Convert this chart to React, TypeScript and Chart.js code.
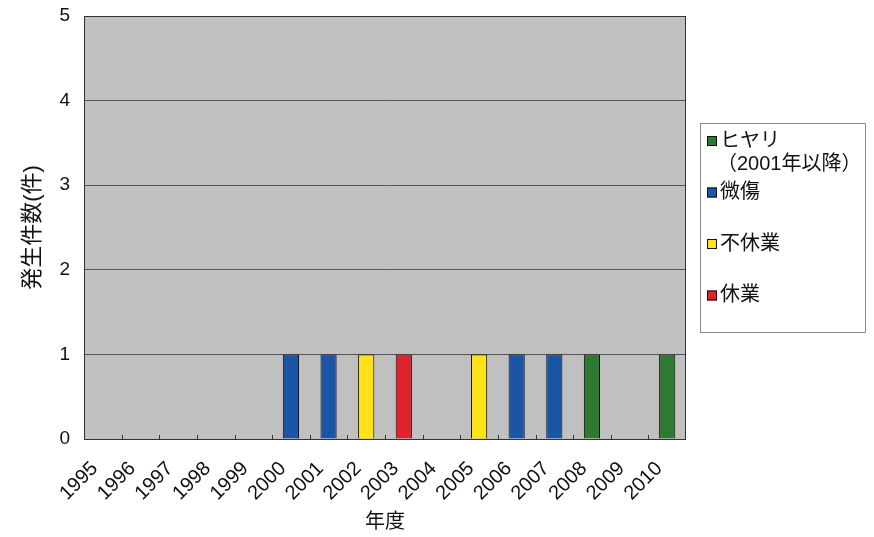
import { useEffect, useRef } from "react";
import { Chart, registerables } from "chart.js";

Chart.register(...registerables);

const years = ["1995", "1996", "1997", "1998", "1999", "2000", "2001", "2002", "2003", "2004", "2005", "2006", "2007", "2008", "2009", "2010"];
const yTicks = [0, 1, 2, 3, 4, 5];

const hiyari = [null, null, null, null, null, null, null, null, null, null, null, null, null, 1, null, 1];
const bisho = [null, null, null, null, null, 1, 1, null, null, null, null, 1, 1, null, null, null];
const fukyugyo = [null, null, null, null, null, null, null, 1, null, null, 1, null, null, null, null, null];
const kyugyo = [null, null, null, null, null, null, null, null, 1, null, null, null, null, null, null, null];

const legendLabels = [["ヒヤリ", "（2001年以降）"], ["微傷"], ["不休業"], ["休業"]];
const seriesColors = ["#2e7a32", "#1b55a6", "#ffe21a", "#e0222c"];

const yTitle = "発生件数(件)";
const xTitle = "年度";

const FONT = "'Liberation Sans', 'Noto Sans CJK JP', sans-serif";

const framePlugin = {
  id: "frame",
  beforeDraw(chart: any) {
    const { ctx, chartArea } = chart;
    ctx.save();
    ctx.fillStyle = "#c0c0c0";
    ctx.fillRect(chartArea.left, chartArea.top, chartArea.right - chartArea.left, chartArea.bottom - chartArea.top);
    ctx.restore();
  },
  afterDraw(chart: any) {
    const { ctx, chartArea } = chart;
    const xs = chart.scales.x;
    ctx.save();
    ctx.strokeStyle = "#333";
    ctx.lineWidth = 1;
    ctx.strokeRect(chartArea.left + 0.5, chartArea.top + 0.5, chartArea.right - chartArea.left - 1, chartArea.bottom - chartArea.top);
    const n = years.length;
    const cw = (chartArea.right - chartArea.left) / n;
    ctx.beginPath();
    for (let i = 1; i < n; i++) {
      const x = Math.round(xs.getPixelForValue(i) - cw / 2) + 0.5;
      ctx.moveTo(x, chartArea.bottom);
      ctx.lineTo(x, chartArea.bottom - 4);
    }
    ctx.stroke();

    // legend
    const left = chartArea.right + 14;
    const right = chart.width - 9;
    const top = chartArea.top + 107;
    const bottom = chartArea.top + 316;
    ctx.strokeStyle = "#8a8a8a";
    ctx.strokeRect(left + 0.5, top + 0.5, right - left, bottom - top);
    const datasets = chart.data.datasets;
    const step = 51.5;
    ctx.font = `20px ${FONT}`;
    ctx.textBaseline = "middle";
    datasets.forEach((ds: any, i: number) => {
      const cy = top + 18 + step * i;
      ctx.fillStyle = ds.backgroundColor;
      ctx.fillRect(left + 7, cy - 5, 10, 10);
      ctx.strokeStyle = "#111";
      ctx.strokeRect(left + 7.5, cy - 4.5, 9, 9);
      ctx.fillStyle = "#111";
      const lines = ds.legendLines as string[];
      lines.forEach((t: string, j: number) => {
        ctx.fillText(t, left + 20 + (j > 0 ? -3 : 0), cy + j * 23);
      });
    });
    ctx.restore();
  },
};

export default function App() {
  const ref = useRef<HTMLCanvasElement | null>(null);
  useEffect(() => {
    document.body.style.margin = "0";
    if (!ref.current) return;
    const series = [hiyari, bisho, fukyugyo, kyugyo];
    const chart = new Chart(ref.current, {
      type: "bar",
      data: {
        labels: years,
        datasets: series.map((d, i) => ({
          label: legendLabels[i].join(""),
          legendLines: legendLabels[i],
          data: d,
          backgroundColor: seriesColors[i],
          borderColor: "#111",
          borderWidth: 1,
          categoryPercentage: 1,
          barPercentage: 0.43,
        })) as any,
      },
      options: {
        animation: false,
        responsive: true,
        maintainAspectRatio: false,
        layout: { padding: { left: 0, right: 188, top: 16, bottom: 0 } },
        plugins: { legend: { display: false }, tooltip: { enabled: false } },
        scales: {
          x: {
            stacked: true,
            grid: { display: false, offset: true },
            border: { display: false },
            ticks: {
              minRotation: 45,
              maxRotation: 45,
              autoSkip: false,
              color: "#111",
              font: { family: FONT, size: 20 },
              padding: 10,
              labelOffset: -8,
            },
            title: {
              display: true,
              text: xTitle,
              color: "#111",
              font: { family: FONT, size: 20 },
              padding: { top: 0, bottom: 3 },
            },
            afterFit(scale: any) {
              scale.height = 98;
            },
          },
          y: {
            stacked: true,
            min: 0,
            max: 5,
            afterBuildTicks(scale: any) {
              scale.ticks = yTicks.map((v) => ({ value: v }));
            },
            grid: { color: "#555", lineWidth: 1, drawTicks: false },
            border: { display: true, color: "#333" },
            ticks: {
              color: "#111",
              font: { family: FONT, size: 19 },
              padding: 14,
            },
            title: {
              display: true,
              text: yTitle,
              color: "#111",
              font: { family: FONT, size: 22 },
              padding: { top: 20, bottom: 0 },
            },
            afterFit(scale: any) {
              scale.width = 84;
              scale.paddingTop = 0;
              scale.paddingBottom = 0;
            },
          },
        },
      },
      plugins: [framePlugin],
    });
    return () => chart.destroy();
  }, []);
  return (
    <div style={{ width: 874, height: 537, position: "relative", background: "#fff" }}>
      <canvas ref={ref} />
    </div>
  );
}
